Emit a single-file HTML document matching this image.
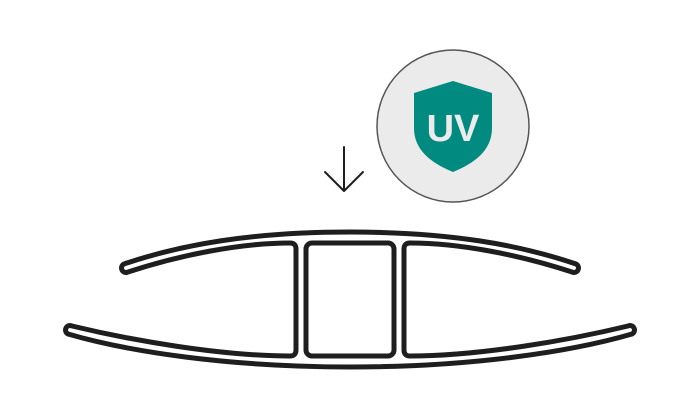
<!DOCTYPE html>
<html><head><style>html,body{margin:0;padding:0;background:#fff;width:700px;height:420px;overflow:hidden}</style></head>
<body>
<svg width="700" height="420" viewBox="0 0 700 420" xmlns="http://www.w3.org/2000/svg">
<circle cx="453" cy="126" r="76" fill="#ebebeb" stroke="#555" stroke-width="1.5"/>
<path d="M453,81 L492,93 L492,128 C492,150 475,163 453,172 C431,163 414,150 414,128 L414,93 Z" fill="#008a80"/>
<text x="453" y="141" text-anchor="middle" font-family="Liberation Sans, sans-serif" font-weight="bold" font-size="38" fill="#ebebeb">UV</text>
<g stroke="#1e1e1e" stroke-width="2" fill="none" stroke-linecap="round" stroke-linejoin="round">
<line x1="344" y1="147" x2="344" y2="190"/>
<polyline points="325,172 344,191 363,172"/>
</g>
<g stroke="#1e1e1e" stroke-width="5" fill="none" stroke-linejoin="round">
<path d="M290,243 C240,243 180,255 128,272 A4 4 0 0 1 124,264 C180,245 250,232 350,232 C450,232 520,245 576,264 A4 4 0 0 1 572,272 C520,255 460,243 410,243 Q404,243 404,249 L404,350 Q404,356 410,356 C480,356 570,340 628,326 A4 4 0 0 1 632,334 C570,352 470,367 350,367 C230,367 130,352 68,334 A4 4 0 0 1 72,326 C130,340 220,356 290,356 Q296,356 296,350 L296,249 Q296,243 290,243 Z"/>
<rect x="306" y="243" width="88" height="113" rx="6"/>
</g>
</svg>
</body></html>
